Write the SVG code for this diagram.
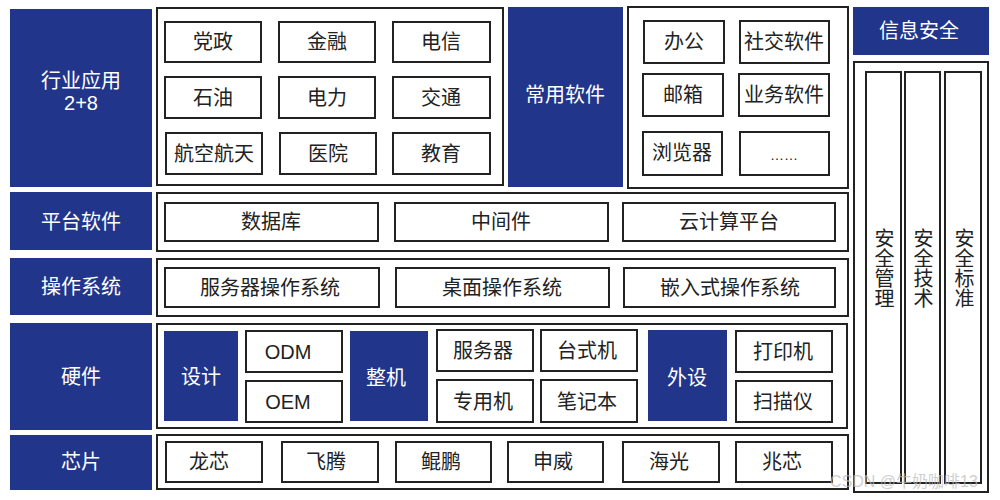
<svg xmlns="http://www.w3.org/2000/svg" width="1000" height="500" viewBox="0 0 1000 500">
<style>
.bl{fill:#21368a}
.ct{fill:#fff;stroke:#222;stroke-width:2}
.bx{fill:#fff;stroke:#222;stroke-width:2}
text{font-family:"Liberation Sans","Noto Sans CJK SC",sans-serif;font-size:20px;text-anchor:middle;dominant-baseline:central;fill:#222}
.w{fill:#fff}
.v{writing-mode:tb;glyph-orientation-vertical:0}
.wm{fill:#bbb;font-size:16px;opacity:0.7}
</style>
<rect width="1000" height="500" fill="#fff"/>
<!-- left labels -->
<g id="lbl-industry"><rect class="bl" x="10" y="9" width="142" height="178"/><text class="w" x="81" y="81">行业应用</text><text class="w" x="81" y="103">2+8</text></g>
<g id="lbl-platform"><rect class="bl" x="10" y="192" width="142" height="58"/><text class="w" x="81" y="222">平台软件</text></g>
<g id="lbl-os"><rect class="bl" x="10" y="258" width="142" height="57"/><text class="w" x="81" y="287">操作系统</text></g>
<g id="lbl-hw"><rect class="bl" x="10" y="323" width="142" height="107"/><text class="w" x="81" y="377">硬件</text></g>
<g id="lbl-chip"><rect class="bl" x="10" y="435" width="142" height="55"/><text class="w" x="81" y="462">芯片</text></g>
<!-- industry -->
<g id="industry">
<rect class="ct" x="157" y="8" width="346" height="177"/>
<g id="n-dangzheng"><rect class="bx" x="165" y="22" width="96" height="40"/><text x="213" y="42">党政</text></g>
<g id="n-jinrong"><rect class="bx" x="279" y="22" width="96" height="40"/><text x="327" y="42">金融</text></g>
<g id="n-dianxin"><rect class="bx" x="393" y="22" width="97" height="40"/><text x="441" y="42">电信</text></g>
<g id="n-shiyou"><rect class="bx" x="165" y="77" width="96" height="41"/><text x="213" y="98">石油</text></g>
<g id="n-dianli"><rect class="bx" x="279" y="77" width="96" height="41"/><text x="327" y="98">电力</text></g>
<g id="n-jiaotong"><rect class="bx" x="393" y="77" width="97" height="41"/><text x="441" y="98">交通</text></g>
<g id="n-hangkong"><rect class="bx" x="166" y="133" width="96" height="41"/><text x="214" y="154">航空航天</text></g>
<g id="n-yiyuan"><rect class="bx" x="280" y="133" width="96" height="41"/><text x="328" y="154">医院</text></g>
<g id="n-jiaoyu"><rect class="bx" x="393" y="133" width="97" height="41"/><text x="441" y="154">教育</text></g>
</g>
<!-- common software -->
<g id="lbl-common"><rect class="bl" x="508" y="7" width="115" height="180"/><text class="w" x="565" y="95">常用软件</text></g>
<g id="common">
<rect class="ct" x="628" y="7" width="220" height="181"/>
<g id="n-bangong"><rect class="bx" x="644" y="21" width="80" height="42"/><text x="684" y="42">办公</text></g>
<g id="n-shejiao"><rect class="bx" x="740" y="21" width="89" height="42"/><text x="784" y="42">社交软件</text></g>
<g id="n-youxiang"><rect class="bx" x="643" y="74" width="80" height="42"/><text x="683" y="95">邮箱</text></g>
<g id="n-yewu"><rect class="bx" x="739" y="74" width="90" height="42"/><text x="784" y="95">业务软件</text></g>
<g id="n-liulan"><rect class="bx" x="643" y="132" width="79" height="43"/><text x="682" y="153">浏览器</text></g>
<g id="n-more"><rect class="bx" x="740" y="132" width="89" height="43"/><text x="784" y="155" style="font-size:14px">……</text></g>
</g>
<!-- platform -->
<g id="platform">
<rect class="ct" x="157" y="193" width="691" height="58"/>
<g id="n-db"><rect class="bx" x="165" y="203" width="213" height="38"/><text x="271" y="222">数据库</text></g>
<g id="n-mid"><rect class="bx" x="395" y="203" width="213" height="38"/><text x="501" y="222">中间件</text></g>
<g id="n-cloud"><rect class="bx" x="623" y="203" width="212" height="38"/><text x="729" y="222">云计算平台</text></g>
</g>
<!-- os -->
<g id="os">
<rect class="ct" x="157" y="259" width="691" height="57"/>
<g id="n-srvos"><rect class="bx" x="165" y="268" width="214" height="39"/><text x="270" y="288">服务器操作系统</text></g>
<g id="n-deskos"><rect class="bx" x="396" y="268" width="213" height="39"/><text x="502" y="288">桌面操作系统</text></g>
<g id="n-embos"><rect class="bx" x="624" y="268" width="211" height="39"/><text x="730" y="288">嵌入式操作系统</text></g>
</g>
<!-- hardware -->
<g id="hardware">
<rect class="ct" x="157" y="324" width="690" height="104"/>
<g id="n-sheji"><rect class="bl" x="164" y="331" width="74" height="90"/><text class="w" x="201" y="377">设计</text></g>
<g id="n-odm"><rect class="bx" x="246" y="331" width="96" height="41"/><text x="288" y="352">ODM</text></g>
<g id="n-oem"><rect class="bx" x="246" y="381" width="96" height="41"/><text x="288" y="402">OEM</text></g>
<g id="n-zhengji"><rect class="bl" x="350" y="331" width="78" height="90"/><text class="w" x="386" y="378">整机</text></g>
<g id="n-server"><rect class="bx" x="437" y="330" width="96" height="41"/><text x="483" y="351">服务器</text></g>
<g id="n-desktop"><rect class="bx" x="541" y="330" width="96" height="41"/><text x="587" y="351">台式机</text></g>
<g id="n-special"><rect class="bx" x="437" y="380" width="96" height="42"/><text x="483" y="402">专用机</text></g>
<g id="n-laptop"><rect class="bx" x="541" y="380" width="96" height="42"/><text x="587" y="402">笔记本</text></g>
<g id="n-waishe"><rect class="bl" x="648" y="330" width="79" height="91"/><text class="w" x="687" y="378">外设</text></g>
<g id="n-printer"><rect class="bx" x="736" y="331" width="96" height="41"/><text x="783" y="352">打印机</text></g>
<g id="n-scanner"><rect class="bx" x="736" y="381" width="96" height="41"/><text x="783" y="402">扫描仪</text></g>
</g>
<!-- chips -->
<g id="chips">
<rect class="ct" x="157" y="435" width="691" height="54"/>
<g id="n-loongson"><rect class="bx" x="166" y="442" width="96" height="40"/><text x="209" y="462">龙芯</text></g>
<g id="n-feiteng"><rect class="bx" x="282" y="442" width="96" height="40"/><text x="326" y="462">飞腾</text></g>
<g id="n-kunpeng"><rect class="bx" x="396" y="442" width="95" height="40"/><text x="441" y="462">鲲鹏</text></g>
<g id="n-shenwei"><rect class="bx" x="508" y="442" width="95" height="40"/><text x="553" y="462">申威</text></g>
<g id="n-haiguang"><rect class="bx" x="623" y="442" width="96" height="40"/><text x="669" y="462">海光</text></g>
<g id="n-zhaoxin"><rect class="bx" x="736" y="442" width="96" height="40"/><text x="782" y="462">兆芯</text></g>
</g>
<!-- security -->
<g id="lbl-security"><rect class="bl" x="853" y="7" width="136" height="48"/><text class="w" x="919" y="31">信息安全</text></g>
<g id="security">
<rect class="ct" x="854" y="62" width="134" height="430"/>
<g id="n-mgmt"><rect class="bx" x="866" y="72" width="35" height="411"/><text class="v" x="883" y="268">安全管理</text></g>
<g id="n-tech"><rect class="bx" x="905" y="72" width="35" height="411"/><text class="v" x="922" y="268">安全技术</text></g>
<g id="n-std"><rect class="bx" x="945" y="72" width="36" height="411"/><text class="v" x="963" y="268">安全标准</text></g>
</g>
<g id="connectors"></g>
<text class="wm" x="904" y="481">CSDN @牛奶咖啡13</text>
</svg>
